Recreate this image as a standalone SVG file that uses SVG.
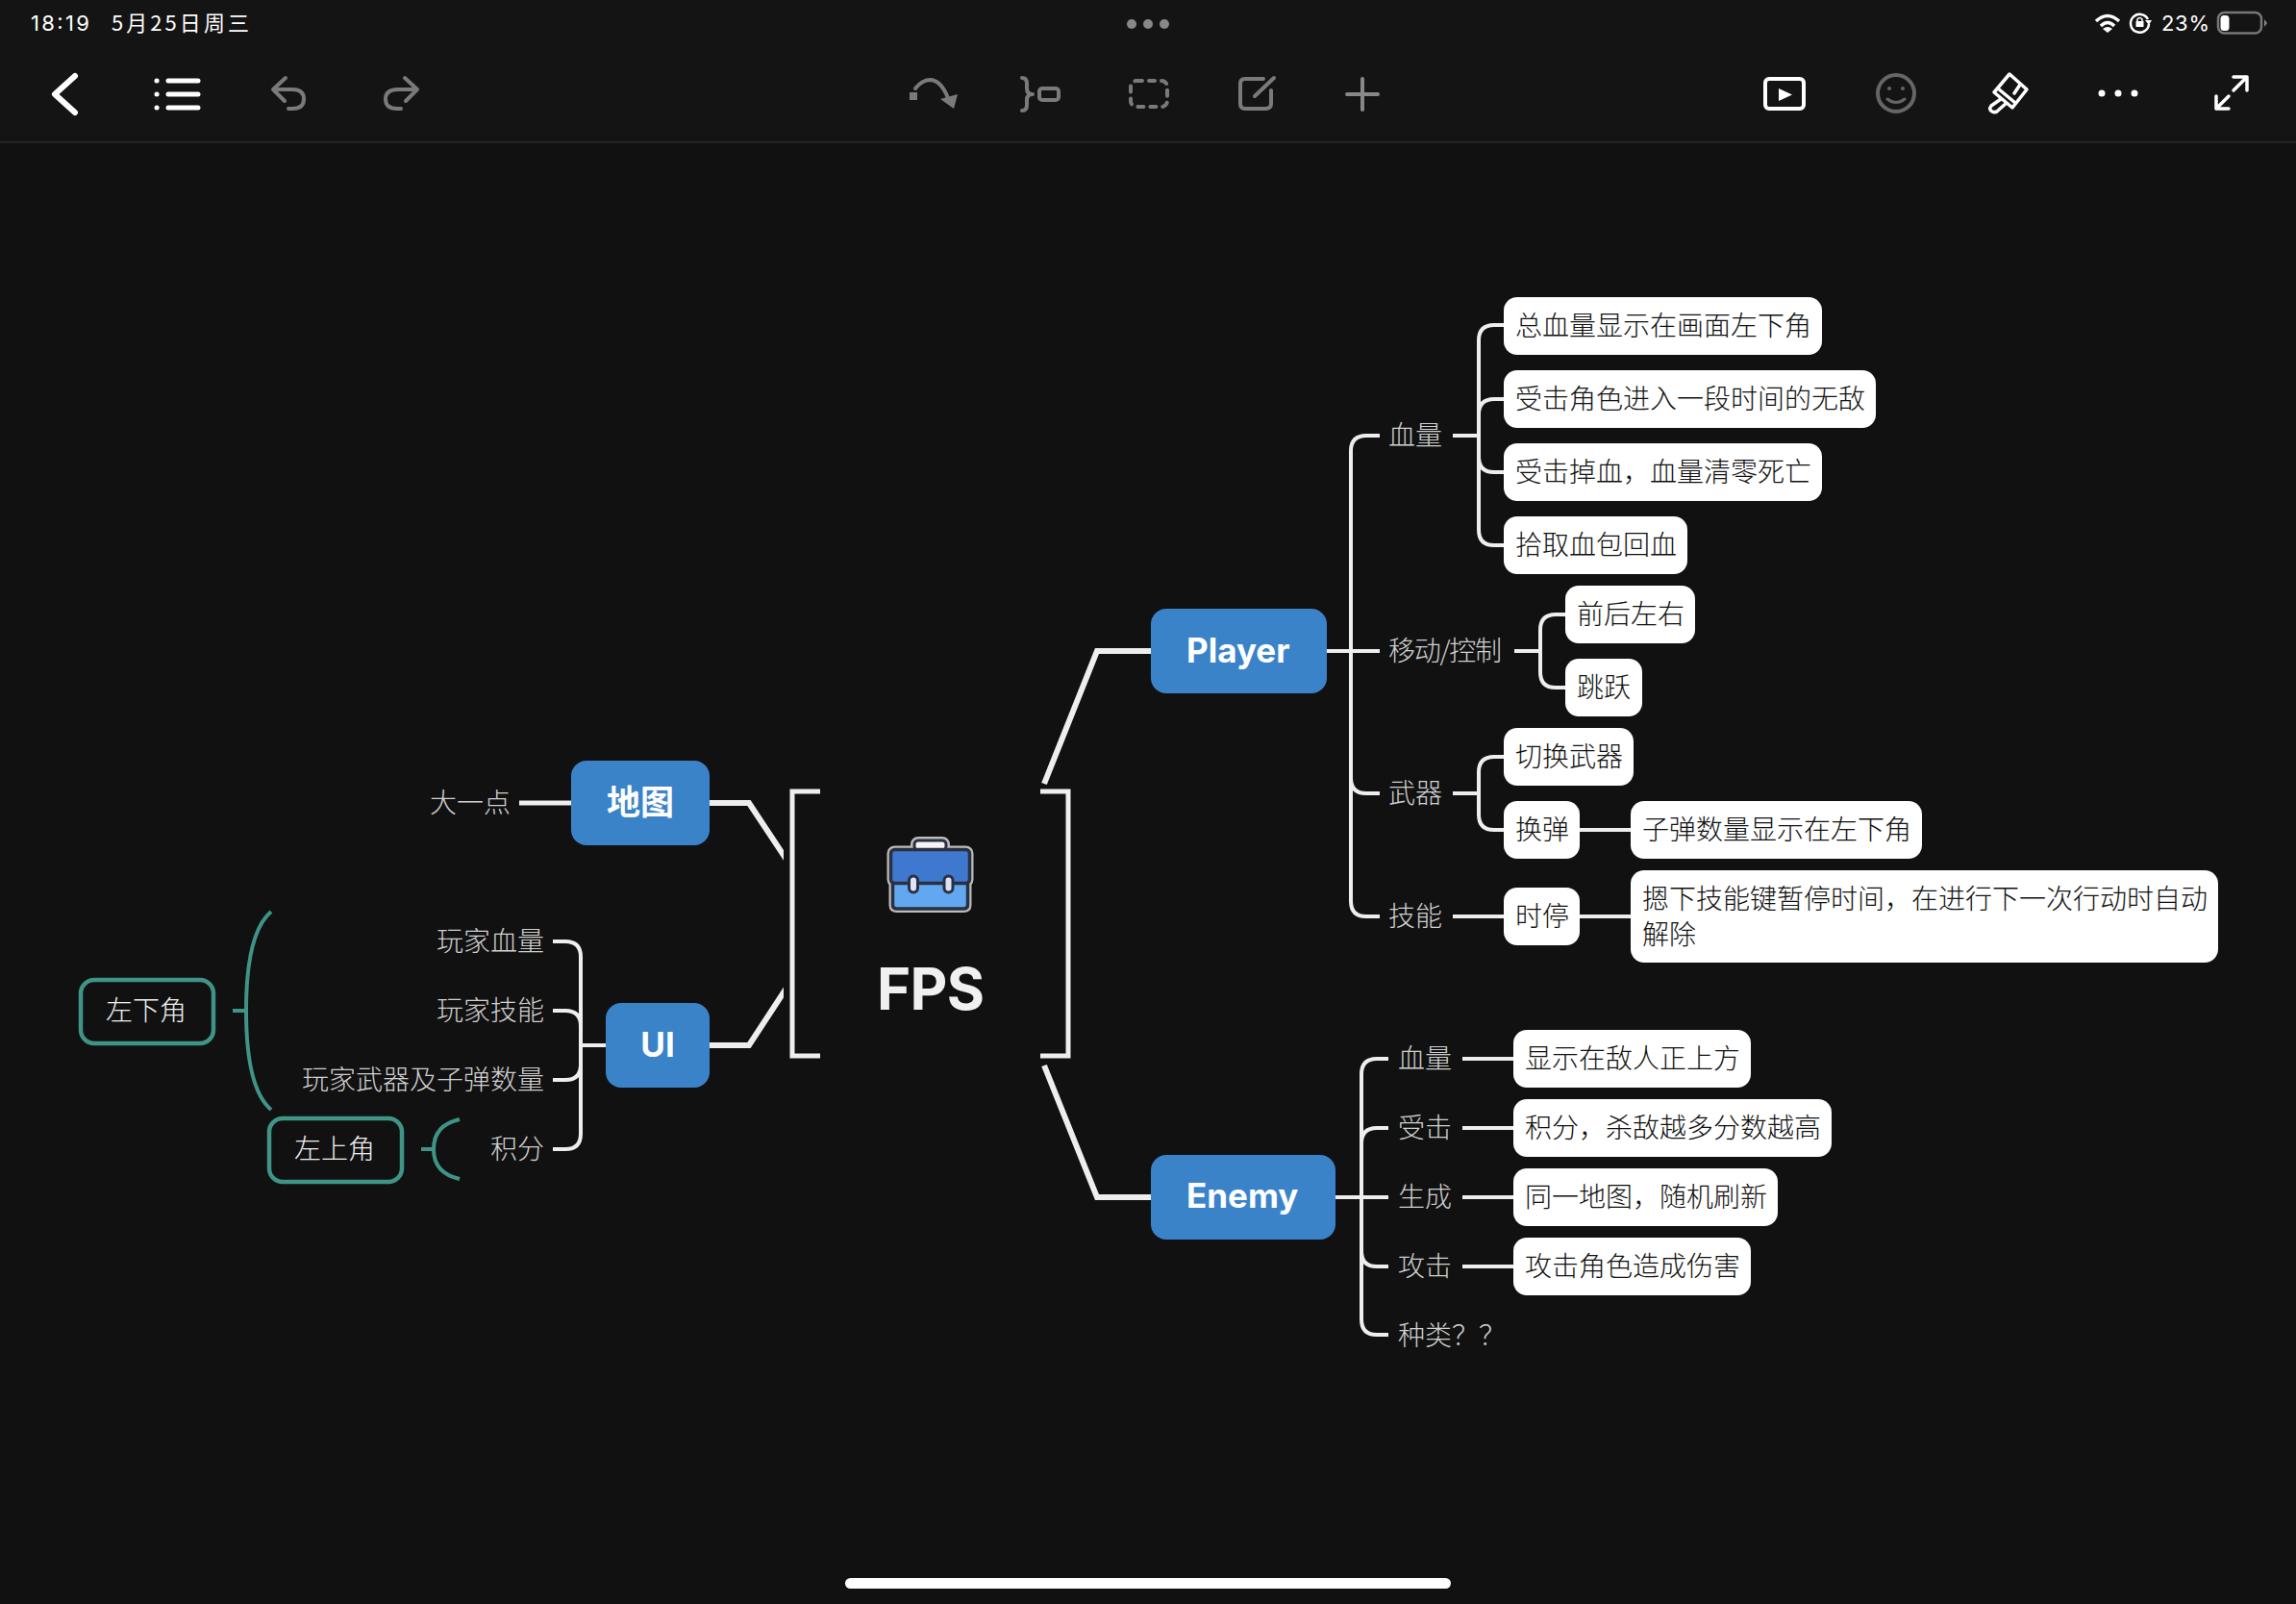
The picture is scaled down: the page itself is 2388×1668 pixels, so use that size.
<svg xmlns="http://www.w3.org/2000/svg" width="2388" height="1668" viewBox="0 0 2388 1668">
<style>
text{font-family:"Noto Sans CJK SC","Noto Sans",sans-serif}
.lat{font-family:Inter,"Liberation Sans","Noto Sans CJK SC",sans-serif}
.conn{fill:none;stroke:#eeeeee;stroke-width:4;stroke-linejoin:round}
.main{fill:none;stroke:#eeeeee;stroke-width:6;stroke-linejoin:miter}
.teal{fill:none;stroke:#3f9486;stroke-width:4}
.blue{fill:#3b83c9}
.leaf{fill:#ffffff}
.tbox{fill:none;stroke:#3f9486;stroke-width:4.5}
.lt{font-size:28px;fill:#111111;font-weight:300}
.lab{font-size:28px;fill:#d0d0d0;font-weight:300}
.tl{font-size:28px;fill:#eeeeee;font-weight:300}
.nt{font-size:35px;font-weight:700;fill:#ffffff}
.wic{fill:none;stroke:#ffffff;stroke-width:4;stroke-linecap:round;stroke-linejoin:round}
.gic{fill:none;stroke:#7a7a7a;stroke-width:4;stroke-linecap:round;stroke-linejoin:round}
.st{font-size:22px;fill:#ffffff}
</style>
<defs><clipPath id="lc"><rect x="500" y="780" width="315" height="400"/></clipPath></defs>
<rect width="2388" height="1668" fill="#111111"/>
<rect width="2388" height="148" fill="#141414"/>
<rect y="147" width="2388" height="1.5" fill="#2b2b2b"/>

<g id="statusbar">
<text class="st lat" x="32" y="32" textLength="61">18:19</text>
<text class="st" x="116" y="32" textLength="143">5月25日周三</text>
<circle cx="1177" cy="25" r="5" fill="#888"/><circle cx="1194" cy="25" r="5" fill="#888"/><circle cx="1211" cy="25" r="5" fill="#888"/>
<path d="M2180 22Q2192 11 2204 22M2185 27Q2192 20 2199 27" fill="none" stroke="#fff" stroke-width="3.5"/><path d="M2187 30L2192 34L2197 30Q2192 26 2187 30Z" fill="#fff"/>
<path d="M2234 20A9.5 9.5 0 1 0 2235 25" fill="none" stroke="#fff" stroke-width="2.5"/><path d="M2231 21L2238 21L2235 26Z" fill="#fff"/><rect x="2221.500" y="22" width="8" height="6" fill="#fff"/><path d="M2223 22V20Q2225.500 17 2228 20V22" fill="none" stroke="#fff" stroke-width="1.500"/>
<text class="st lat" x="2248" y="32" textLength="50">23%</text>
<rect x="2307" y="13" width="45" height="21.500" rx="6.500" fill="none" stroke="#777" stroke-width="2.500"/><rect x="2309.500" y="16" width="9" height="16" rx="3.500" fill="#fff"/><path d="M2355 20L2358 24L2355 28Z" fill="#888"/>
</g>

<g id="toolbar">
<path d="M78 79L57 98L78 117" class="wic" style="stroke-width:6"/>
<path d="M175 84H206M175 98H206M175 112H206M163 84h.1M163 98h.1M163 112h.1" class="wic" style="stroke-width:5"/>
<path d="M297 81L284 93L296 105M284 93H304Q316 93 316 103Q316 113 304 113H300" class="gic"/>
<path d="M421 81L434 93L422 105M434 93H414Q401 93 401 103Q401 113 413 113H417" class="gic"/>
<rect x="946" y="96" width="8" height="8" fill="#7a7a7a"/>
<path d="M952 92Q959 83 968 83Q979 84 986 102" class="gic"/>
<path d="M978 103L996 98L992 113Z" fill="#7a7a7a"/>
<path d="M1063 81Q1068 81 1068 87V92Q1068 98 1074 98Q1068 98 1068 104V109Q1068 115 1063 115" class="gic"/>
<rect x="1081" y="92" width="20" height="12" rx="3" class="gic"/>
<rect x="1176" y="84" width="38" height="27" rx="6" class="gic" stroke-dasharray="6 7"/>
<path d="M1314 82H1295Q1290 82 1290 87V108Q1290 113 1295 113H1316Q1322 113 1322 108V94M1325 81L1305 100" class="gic"/>
<path d="M1417 82V114M1401 98H1433" class="gic" style="stroke:#888"/>
<rect x="1836" y="82" width="40" height="31" rx="4" class="wic"/>
<path d="M1850 92L1864 98.500L1850 105Z" fill="#fff"/>
<circle cx="1972" cy="97" r="19" class="gic" style="stroke:#666"/><circle cx="1965" cy="92" r="2" fill="#666"/><circle cx="1979" cy="92" r="2" fill="#666"/><path d="M1963 103Q1972 110 1981 103" class="gic" style="stroke:#666;stroke-width:3"/>
<path d="M2090 77L2108 93L2093 112L2074 96ZM2078 92L2096 107M2101 88L2095 97M2081 103L2071 110Q2068 114 2072 116Q2076 118 2079 114L2087 107" class="wic" style="stroke-width:3.500"/>
<circle cx="2186" cy="97" r="3.500" fill="#fff"/><circle cx="2203" cy="97" r="3.500" fill="#fff"/><circle cx="2220" cy="97" r="3.500" fill="#fff"/>
<path d="M2323 80H2337V94M2337 80L2323 94M2305 100V113H2318M2305 113L2318 100" class="wic" style="stroke-width:3.500"/>
</g>

<g id="connectors">
<path class="main" clip-path="url(#lc)" d="M738 835H779L830 912"/>
<path class="main" clip-path="url(#lc)" d="M738 1087H779L830 1009"/>
<path class="main" d="M853 823H824V1098H853" style="stroke-width:5"/>
<path class="main" d="M1082 823H1111V1098H1082" style="stroke-width:5"/>
<path class="main" d="M1197 677H1141L1086 815"/>
<path class="main" d="M1197 1245H1141L1086 1108"/>
<path class="conn" style="stroke-width:5" d="M540 835H594"/>
<path class="conn" d="M575 979H588Q604 979 604 995V1179Q604 1195 588 1195H575M575 1051H588Q604 1051 604 1067M575 1123H588Q604 1123 604 1107M604 1087H630"/>
<path class="teal" d="M282 948Q256 970 256 1051Q256 1132 282 1154M242 1051H256"/>
<path class="teal" d="M478 1164Q451 1170 451 1195Q451 1220 478 1226M438 1195H451"/>
<path class="conn" d="M1380 677H1435M1435 453H1421Q1405 453 1405 469V937Q1405 953 1421 953H1435M1405 809Q1405 825 1421 825H1435"/>
<path class="conn" d="M1511 453H1538M1564 338H1554Q1538 338 1538 354V551Q1538 567 1554 567H1564M1564 415H1554Q1538 415 1538 431M1564 491H1554Q1538 491 1538 475"/>
<path class="conn" d="M1575 677H1602M1628 639H1618Q1602 639 1602 655V699Q1602 715 1618 715H1628"/>
<path class="conn" d="M1511 825H1538M1564 787H1554Q1538 787 1538 803V847Q1538 863 1554 863H1564M1643 863H1696"/>
<path class="conn" d="M1511 953H1564M1643 953H1696"/>
<path class="conn" d="M1389 1245H1444M1444 1101H1432Q1416 1101 1416 1117V1372Q1416 1388 1432 1388H1444M1416 1189Q1416 1173 1432 1173H1444M1416 1301Q1416 1317 1432 1317H1444"/>
<path class="conn" d="M1521 1101H1574M1521 1173H1574M1521 1245H1574M1521 1317H1574"/>
</g>

<g id="root">
<g fill="none" stroke="#bbbbbb" stroke-width="8" stroke-linejoin="round">
<rect x="951" y="874" width="33" height="10" rx="4"/>
<path d="M928.500 918V941Q928.500 945 933 945H1002Q1006.500 945 1006.500 941V918"/>
<rect x="926.500" y="883.500" width="82" height="35" rx="4"/>
</g>
<rect x="951" y="874" width="33" height="10" rx="4" fill="#f4f4f8" stroke="#2a3040" stroke-width="3"/>
<path d="M928.500 915V941Q928.500 945 933 945H1002Q1006.500 945 1006.500 941V915Z" fill="#62a8f0" stroke="#2a3040" stroke-width="3.500"/>
<rect x="926.500" y="883.500" width="82" height="35" rx="4" fill="#3f78cf" stroke="#2a3040" stroke-width="3.500"/>
<rect x="945.500" y="911" width="9" height="17" rx="4.500" fill="#dfe3f8" stroke="#2a3040" stroke-width="3"/>
<rect x="982" y="911" width="9" height="17" rx="4.500" fill="#dfe3f8" stroke="#2a3040" stroke-width="3"/>
<text class="lat" x="968" y="1050" text-anchor="middle" font-size="60" font-weight="700" fill="#f0f0f0" textLength="112">FPS</text>
</g>

<g id="player"><rect class="blue" x="1197" y="633" width="183" height="88" rx="16"/><text class="nt lat" x="1234" y="689">Player</text></g>
<g id="enemy"><rect class="blue" x="1197" y="1201" width="192" height="88" rx="16"/><text class="nt lat" x="1234" y="1256">Enemy</text></g>
<g id="map"><rect class="blue" x="594" y="791" width="144" height="88" rx="16"/><text class="nt" x="666" y="847" text-anchor="middle">地图</text></g>
<g id="ui"><rect class="blue" x="630" y="1043" width="108" height="88" rx="16"/><text class="nt lat" x="684" y="1099" text-anchor="middle">UI</text></g>

<g id="left-labels">
<text class="lab" x="531" y="845" text-anchor="end">大一点</text>
<text class="lab" x="566" y="989" text-anchor="end">玩家血量</text>
<text class="lab" x="566" y="1061" text-anchor="end">玩家技能</text>
<text class="lab" x="566" y="1133" text-anchor="end">玩家武器及子弹数量</text>
<text class="lab" x="566" y="1205" text-anchor="end">积分</text>
</g>
<g id="bottom-left"><rect class="tbox" x="84" y="1019" width="138" height="66" rx="14"/><text class="tl" x="152" y="1061" text-anchor="middle">左下角</text></g>
<g id="top-left"><rect class="tbox" x="280" y="1163" width="138" height="66" rx="14"/><text class="tl" x="348" y="1205" text-anchor="middle">左上角</text></g>

<g id="player-labels">
<text class="lab" x="1444" y="463">血量</text>
<text class="lab" x="1444" y="687" textLength="118">移动/控制</text>
<text class="lab" x="1444" y="835">武器</text>
<text class="lab" x="1444" y="963">技能</text>
</g>
<g id="p1"><rect class="leaf" x="1564" y="309" width="331" height="60" rx="14"/><text class="lt" x="1576" y="349">总血量显示在画面左下角</text></g>
<g id="p2"><rect class="leaf" x="1564" y="385" width="387" height="60" rx="14"/><text class="lt" x="1576" y="425">受击角色进入一段时间的无敌</text></g>
<g id="p3"><rect class="leaf" x="1564" y="461" width="331" height="60" rx="14"/><text class="lt" x="1576" y="501">受击掉血，血量清零死亡</text></g>
<g id="p4"><rect class="leaf" x="1564" y="537" width="191" height="60" rx="14"/><text class="lt" x="1576" y="577">拾取血包回血</text></g>
<g id="p5"><rect class="leaf" x="1628" y="609" width="135" height="60" rx="14"/><text class="lt" x="1640" y="649">前后左右</text></g>
<g id="p6"><rect class="leaf" x="1628" y="685" width="80" height="60" rx="14"/><text class="lt" x="1640" y="725">跳跃</text></g>
<g id="p7"><rect class="leaf" x="1564" y="757" width="135" height="60" rx="14"/><text class="lt" x="1576" y="797">切换武器</text></g>
<g id="p8"><rect class="leaf" x="1564" y="833" width="79" height="60" rx="14"/><text class="lt" x="1576" y="873">换弹</text></g>
<g id="p9"><rect class="leaf" x="1696" y="833" width="303" height="60" rx="14"/><text class="lt" x="1708" y="873">子弹数量显示在左下角</text></g>
<g id="p10"><rect class="leaf" x="1564" y="923" width="79" height="60" rx="14"/><text class="lt" x="1576" y="963">时停</text></g>
<g id="p11"><rect class="leaf" x="1696" y="905" width="611" height="96" rx="14"/><text class="lt" x="1708" y="945">摁下技能键暂停时间，在进行下一次行动时自动</text><text class="lt" x="1708" y="982">解除</text></g>

<g id="enemy-labels">
<text class="lab" x="1454" y="1111">血量</text>
<text class="lab" x="1454" y="1183">受击</text>
<text class="lab" x="1454" y="1255">生成</text>
<text class="lab" x="1454" y="1327">攻击</text>
<text class="lab" x="1454" y="1399">种类？？</text>
</g>
<g id="e1"><rect class="leaf" x="1574" y="1071" width="247" height="60" rx="14"/><text class="lt" x="1586" y="1111">显示在敌人正上方</text></g>
<g id="e2"><rect class="leaf" x="1574" y="1143" width="331" height="60" rx="14"/><text class="lt" x="1586" y="1183">积分，杀敌越多分数越高</text></g>
<g id="e3"><rect class="leaf" x="1574" y="1215" width="275" height="60" rx="14"/><text class="lt" x="1586" y="1255">同一地图，随机刷新</text></g>
<g id="e4"><rect class="leaf" x="1574" y="1287" width="247" height="60" rx="14"/><text class="lt" x="1586" y="1327">攻击角色造成伤害</text></g>

<rect id="home-indicator" x="879" y="1641" width="630" height="11" rx="5.500" fill="#ffffff"/>
</svg>
